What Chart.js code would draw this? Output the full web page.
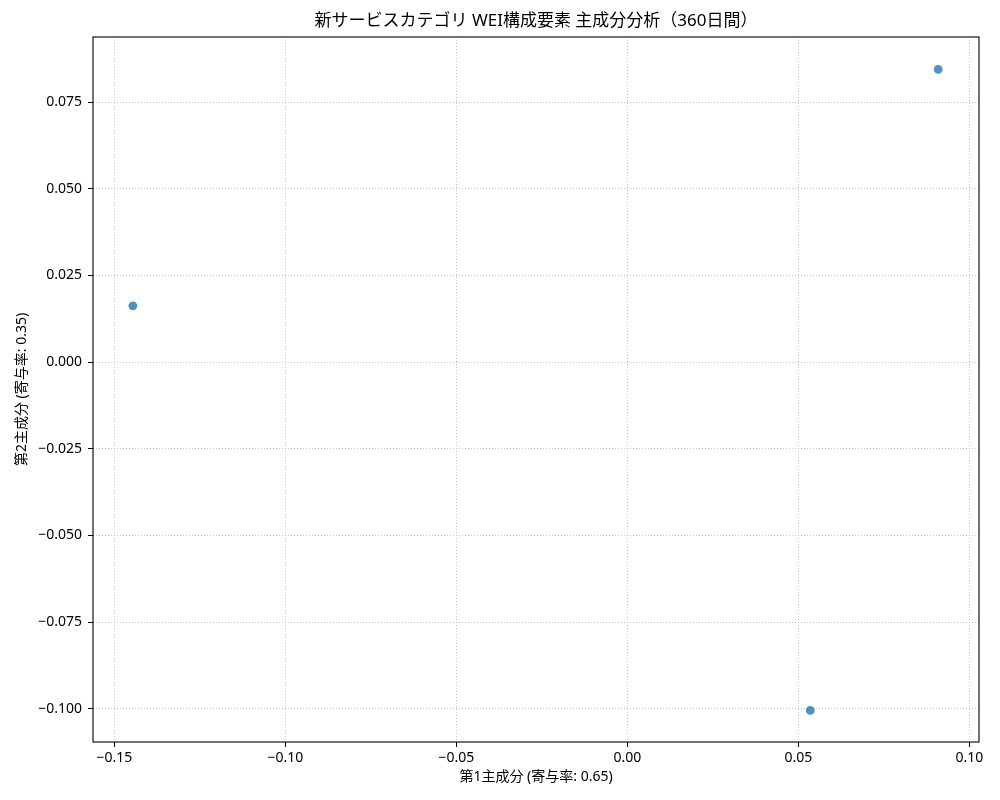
<!DOCTYPE html>
<html lang="ja">
<head>
<meta charset="utf-8">
<title>新サービスカテゴリ WEI構成要素 主成分分析</title>
<script src="https://cdn.jsdelivr.net/npm/chart.js@4.4.1/dist/chart.umd.min.js"></script>
<style>
  html, body { margin: 0; padding: 0; background: #ffffff; }
  #wrap { width: 1000px; height: 800px; position: relative; }
</style>
</head>
<body>
<div id="wrap"><canvas id="myChart"></canvas></div>
<script>
// PCA scores
const pc1 = [0.0909, -0.1446, 0.0535];
const pc2 = [0.0844, 0.0162, -0.1005];

const xTicks = [-0.15, -0.10, -0.05, 0.00, 0.05, 0.10];
const xTickLabels = ['\u22120.15', '\u22120.10', '\u22120.05', '0.00', '0.05', '0.10'];
const yTicks = [-0.100, -0.075, -0.050, -0.025, 0.000, 0.025, 0.050, 0.075];
const yTickLabels = ['\u22120.100', '\u22120.075', '\u22120.050', '\u22120.025', '0.000', '0.025', '0.050', '0.075'];

const titleText = '新サービスカテゴリ WEI構成要素 主成分分析（360日間）';
const xLabel = '第1主成分 (寄与率: 0.65)';
const yLabel = '第2主成分 (寄与率: 0.35)';

const FONT = '"Noto Sans", "Noto Sans CJK JP", sans-serif';

// black frame round the plot area, like matplotlib spines
const framePlugin = {
    id: 'frame',
    afterDraw(chart) {
        const a = chart.chartArea;
        const c = chart.ctx;
        c.save();
        c.strokeStyle = '#000000';
        c.lineWidth = 1.1;
        c.setLineDash([]);
        c.strokeRect(a.left, a.top, a.right - a.left, a.bottom - a.top);
        c.restore();
    }
};

document.addEventListener('DOMContentLoaded', function() {
    const ctx = document.getElementById('myChart').getContext('2d');
    new Chart(ctx, {
        type: 'scatter',
        plugins: [framePlugin],
        data: {
            datasets: [{
                data: pc1.map((x, i) => ({ x: x, y: pc2[i] })),
                backgroundColor: 'rgba(31,119,180,0.8)',
                borderWidth: 0,
                pointRadius: 4.4,
                pointHoverRadius: 4.4
            }]
        },
        options: {
            responsive: true,
            maintainAspectRatio: false,
            animation: false,
            events: [],
            layout: { padding: { top: 0, right: 21, bottom: 0, left: 0 } },
            plugins: {
                legend: { display: false },
                tooltip: { enabled: false },
                title: {
                    display: true,
                    text: titleText,
                    fullSize: false,
                    color: '#000000',
                    font: { family: FONT, size: 17, weight: 'normal', lineHeight: 1.2 },
                    padding: { top: 10.5, bottom: 6.1 }
                }
            },
            scales: {
                x: {
                    type: 'linear',
                    min: -0.15626,
                    max: 0.10284,
                    afterBuildTicks: s => { s.ticks = xTicks.map(v => ({ value: v })); },
                    afterFit: s => { s.height = 58; },
                    border: { display: false, dash: [1, 2] },
                    grid: {
                        color: 'rgba(176,176,176,0.75)',
                        lineWidth: 1,
                        tickLength: 5,
                        tickColor: '#000000',
                        tickWidth: 1,
                        tickBorderDash: []
                    },
                    ticks: {
                        autoSkip: false,
                        maxRotation: 0,
                        padding: 3,
                        color: '#000000',
                        font: { family: FONT, size: 14 },
                        callback: (v, i) => xTickLabels[i]
                    },
                    title: {
                        display: true,
                        text: xLabel,
                        color: '#000000',
                        font: { family: FONT, size: 14, lineHeight: 1.2 },
                        padding: { top: 0, bottom: 14.5 }
                    }
                },
                y: {
                    type: 'linear',
                    min: -0.1096,
                    max: 0.09375,
                    afterBuildTicks: s => { s.ticks = yTicks.map(v => ({ value: v })); },
                    afterFit: s => { s.width = 93; },
                    border: { display: false, dash: [1, 2] },
                    grid: {
                        color: 'rgba(176,176,176,0.75)',
                        lineWidth: 1,
                        tickLength: 5,
                        tickColor: '#000000',
                        tickWidth: 1,
                        tickBorderDash: []
                    },
                    ticks: {
                        autoSkip: false,
                        padding: 6,
                        color: '#000000',
                        font: { family: FONT, size: 14 },
                        callback: (v, i) => yTickLabels[i]
                    },
                    title: {
                        display: true,
                        text: yLabel,
                        color: '#000000',
                        font: { family: FONT, size: 14, lineHeight: 1.2 },
                        padding: { top: 13.5, bottom: 0 }
                    }
                }
            }
        }
    });
});
</script>
</body>
</html>
